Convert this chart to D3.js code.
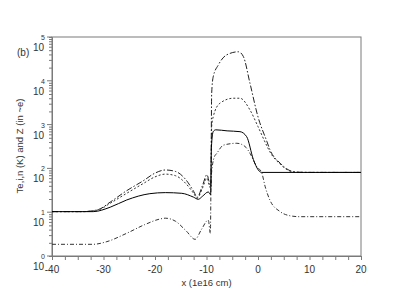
<!DOCTYPE html>
<html>
<head>
<meta charset="utf-8">
<script src="https://cdn.jsdelivr.net/npm/d3@7.9.0/dist/d3.min.js"></script>
<style>
  body { margin: 0; background: #fff; }
  svg text { font-family: "Liberation Sans", Arial, sans-serif; }
</style>
</head>
<body>
<div id="chart"></div>
<script>
// values: [x (1e16 cm), value]
const teSeries = [
  [-40,10.3],[-34,10.3],[-31,11.5],[-28.7,17],[-25.5,31],[-22.3,52],[-20,78],[-18,92],
  [-16,85],[-14,55],[-12.5,30],[-11.8,22],[-10.8,40],[-9.9,72],[-9.5,50],[-9.15,40],
  [-9.0,5000],[-8.7,12300],[-7.7,23000],[-6.1,39000],[-3.8,46000],[-2.85,36000],
  [-1.55,8700],[0,1500],[1.7,420],[2.3,270],[4.3,132],[6.2,89],[7.5,82],[10,81],[20,81]
];
const tiSeries = [
  [-40,10.3],[-34,10.3],[-31,11.3],[-28.7,16],[-25.5,27],[-22.3,45],[-20,64],[-18,74],
  [-16,68],[-14,45],[-12.5,27],[-11.8,21],[-10.8,35],[-9.9,60],[-9.5,42],[-9.15,35],
  [-9.0,900],[-8.7,1500],[-7.4,3070],[-4.8,4000],[-3.5,4000],[-1.55,2150],[0,900],
  [1.7,330],[2.3,240],[4.3,125],[6.2,87],[7.5,82],[10,81],[20,81]
];
const nSeries = [
  [-40,10.3],[-32,10.3],[-28.7,13],[-25.5,19],[-21,26.5],[-18,28],[-14.8,27],[-12.5,22],
  [-11.6,19.7],[-10.8,23],[-9.65,29],[-9.2,25],[-9.05,300],[-8.7,690],[-8.2,760],
  [-6,720],[-3.5,690],[-2.2,530],[-0.9,160],[0.06,92],[0.7,81],[20,81]
];
const zSeries = [
  [-40,1.85],[-32,1.85],[-29.5,2.1],[-25.5,3.3],[-22,5.2],[-19,7.0],[-18,7.3],[-16,6.2],
  [-14,3.8],[-12.2,2.4],[-11,4],[-9.65,6.6],[-9.25,3.3],[-9.1,60],[-8.5,180],[-8,220],
  [-6.7,340],[-4.1,375],[-2.5,315],[-1.55,220],[-0.26,110],[0.7,81],[1.4,38],[2.3,19],
  [4.3,10.3],[6.2,8.3],[8,7.9],[20,7.9]
];
const xTicks = [-40, -30, -20, -10, 0, 10, 20];
const yExponents = [0, 1, 2, 3, 4, 5];

const width = 414, height = 293;
const margin = { top: 37, right: 53, bottom: 37, left: 52 };

const svg = d3.select('#chart').append('svg')
  .attr('width', width).attr('height', height);

const x = d3.scaleLinear().domain([-40, 20]).range([margin.left, width - margin.right]);
const y = d3.scaleLog().domain([1, 1e5]).range([height - margin.bottom, margin.top]);

const axisColor = '#7a7a7a';

// frame
svg.append('rect')
  .attr('x', margin.left).attr('y', margin.top)
  .attr('width', x(20) - x(-40)).attr('height', y(1) - y(1e5))
  .attr('fill', 'none').attr('stroke', axisColor).attr('stroke-width', 1);

// x axis
const xMinor = d3.range(-40, 20.01, 2.5);
const xAxis = svg.append('g').attr('transform', `translate(0,${y(1)})`);
xAxis.call(d3.axisBottom(x).tickValues(xMinor).tickSize(4).tickFormat(''));
xAxis.select('.domain').attr('stroke', axisColor);
xAxis.selectAll('line').attr('stroke', axisColor);
xAxis.selectAll('.lbl').data(xTicks).join('text')
  .attr('x', d => x(d)).attr('y', 17)
  .attr('text-anchor', 'middle').attr('font-size', 10).attr('fill', '#333')
  .text(d => d);

// y axis (log, minor ticks 2..9)
const yMinor = [];
for (let e = 0; e < 5; e++) for (let m = 2; m <= 9; m++) yMinor.push(m * Math.pow(10, e));
const yAxis = svg.append('g').attr('transform', `translate(${x(-40)},0)`);
yAxis.call(d3.axisLeft(y).tickValues(yMinor).tickSize(3).tickFormat(''));
yAxis.select('.domain').attr('stroke', axisColor);
yAxis.selectAll('line').attr('stroke', axisColor);
yAxis.selectAll('.major').data(yExponents).join('line')
  .attr('x1', -5).attr('x2', 0)
  .attr('y1', d => y(Math.pow(10, d))).attr('y2', d => y(Math.pow(10, d)))
  .attr('stroke', axisColor);
const yl = yAxis.selectAll('.lbl').data(yExponents).join('g')
  .attr('transform', d => `translate(-8,${y(Math.pow(10, d))})`);
yl.append('text').attr('x', 0).attr('y', 14)
  .attr('text-anchor', 'end').attr('font-size', 10).attr('fill', '#333').text('10');
yl.append('text').attr('x', 1).attr('y', 3)
  .attr('font-size', 7).attr('fill', '#333').text(d => d);

// axis titles
svg.append('text')
  .attr('x', (x(-40) + x(20)) / 2).attr('y', 286)
  .attr('text-anchor', 'middle').attr('font-size', 9.5).attr('fill', '#333')
  .text('x (1e16 cm)');
svg.append('text')
  .attr('transform', 'translate(23,146) rotate(-90)')
  .attr('text-anchor', 'middle').attr('font-size', 9.5).attr('fill', '#333')
  .text('Te,i,n (K) and Z (in ~e)');
svg.append('text')
  .attr('x', 17).attr('y', 56).attr('font-size', 10).attr('fill', '#333')
  .text('(b)');

// curves
const line = d3.line()
  .x(d => x(d[0])).y(d => y(d[1]))
  .curve(d3.curveMonotoneX);

const series = [
  { data: zSeries, dash: '4,2,1,2', color: '#333' },
  { data: tiSeries, dash: '2,2', color: '#333' },
  { data: teSeries, dash: '6,2,1.5,2', color: '#222' },
  { data: nSeries, dash: null, color: '#000' }
];
svg.append('g').selectAll('path').data(series).join('path')
  .attr('d', d => line(d.data))
  .attr('fill', 'none')
  .attr('stroke', d => d.color)
  .attr('stroke-width', 1)
  .attr('stroke-dasharray', d => d.dash);
</script>
</body>
</html>
